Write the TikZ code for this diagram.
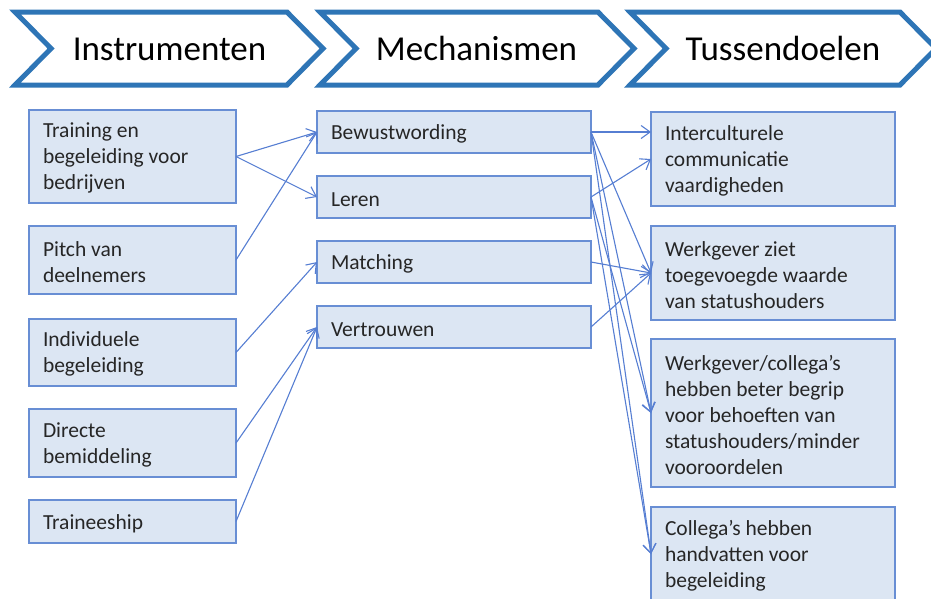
\documentclass[tikz,border=0pt]{standalone}
\usepackage{fontspec}
\setmainfont{Carlito}
\usetikzlibrary{arrows.meta}

\definecolor{hdrblue}{RGB}{46,117,182}
\definecolor{boxfill}{RGB}{220,230,243}
\definecolor{boxline}{RGB}{104,142,212}
\definecolor{linkblue}{RGB}{86,126,210}

% fixed (non-stretching) word spacing and a tall invisible strut on the first line
\newcommand{\boxtextsetup}{\spaceskip=0.226em\relax\rule{0pt}{18.5pt}}

\tikzset{
  chevron/.style={draw=hdrblue, line width=5pt, line join=miter, fill=white},
  hdrtext/.style={font=\fontsize{35}{40}\selectfont, text=black, anchor=base, inner sep=0pt},
  itembox/.style={draw=boxline, fill=boxfill, line width=1.2pt, anchor=north west,
    align=left, inner xsep=14pt, inner ysep=0pt, outer sep=0pt,
    font=\fontsize{21.5}{26}\selectfont, text=black!85,
    execute at begin node=\boxtextsetup},
  leftbox/.style={itembox, text width=179pt},
  midbox/.style={itembox, text width=246pt},
  rightbox/.style={itembox, text width=216pt},
  link/.style={draw=linkblue, line width=1.1pt,
    -{Straight Barb[length=9pt,width=13pt,line width=1.1pt]}},
}

\begin{document}
\begin{tikzpicture}[x=1pt, y=-1pt]
  \useasboundingbox (0,0) rectangle (931,598);
  \clip (0,0) rectangle (931,598);

  % header chevrons
  \draw[chevron] (15,12) -- (287,12) -- (323,48.5) -- (287,85) -- (15,85) -- (51,48.5) -- cycle;
  \draw[chevron] (320,12) -- (598,12) -- (634,48.5) -- (598,85) -- (320,85) -- (356,48.5) -- cycle;
  \draw[chevron] (630,12) -- (900,12) -- (936,48.5) -- (900,85) -- (630,85) -- (666,48.5) -- cycle;
  \node[hdrtext] (h1) at (169.5,60) {Instrumenten};
  \node[hdrtext] (h2) at (476.5,60) {Mechanismen};
  \node[hdrtext] (h3) at (783,60) {Tussendoelen};

  % instruments
  \node[leftbox, minimum height=93pt] (tr) at (29,110) {Training en\\begeleiding voor\\bedrijven};
  \node[leftbox, minimum height=68pt] (pi) at (29,226) {Pitch van\\deelnemers};
  \node[leftbox, minimum height=67pt] (ib) at (29,319) {Individuele\\begeleiding};
  \node[leftbox, minimum height=68pt] (db) at (29,409) {Directe\\bemiddeling};
  \node[leftbox, minimum height=43pt] (ts) at (29,500) {Traineeship};

  % mechanisms
  \node[midbox, minimum height=42pt] (bw) at (317,111) {Bewustwording};
  \node[midbox, minimum height=42pt] (le) at (317,176) {Leren};
  \node[midbox, minimum height=42pt] (ma) at (317,241) {Matching};
  \node[midbox, minimum height=42pt] (ve) at (317,306) {Vertrouwen};

  % intermediate goals
  \node[rightbox, minimum height=94pt] (ic) at (651,112) {Interculturele\\communicatie\\vaardigheden};
  \node[rightbox, minimum height=94pt] (wg) at (651,226) {Werkgever ziet\\toegevoegde waarde\\van statushouders};
  \node[rightbox, minimum height=148pt] (wc) at (651,339) {Werkgever/collega’s\\hebben beter begrip\\voor behoeften van\\statushouders/minder\\vooroordelen};
  \node[rightbox, minimum height=94pt] (ch) at (651,507) {Collega’s hebben\\handvatten voor\\begeleiding};

  % instruments -> mechanisms
  \draw[link] (tr.east) -- (bw.west);
  \draw[link] (tr.east) -- (le.west);
  \draw[link] (pi.east) -- (bw.west);
  \draw[link] (ib.east) -- (ma.west);
  \draw[link] (db.east) -- (ve.west);
  \draw[link] (ts.east) -- (ve.west);

  % mechanisms -> intermediate goals
  \draw[link] (bw.east) -- (bw.east -| ic.west);
  \draw[link] (le.east) -- (ic.west);
  \draw[link] (ma.east) -- (wg.west);
  \draw[link] (ve.east) -- (wg.west);
  \draw[link] (bw.east) -- (wg.west);
  \draw[link] (bw.east) -- (wc.west);
  \draw[link] (bw.east) -- (ch.west);
  \draw[link] (le.east) -- (wc.west);
  \draw[link] (le.east) -- (ch.west);
\end{tikzpicture}
\end{document}
